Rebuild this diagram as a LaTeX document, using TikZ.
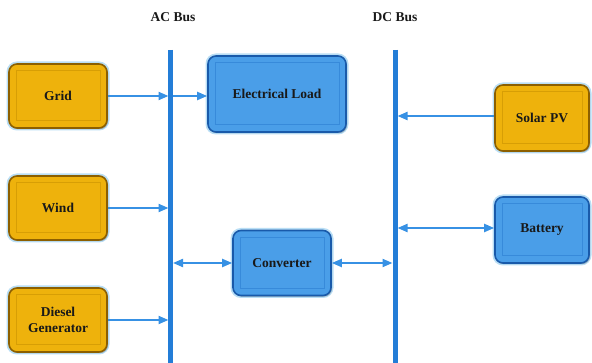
\documentclass[tikz,border=0pt]{standalone}
\usepackage{fontspec}
\setmainfont{Liberation Serif}
\usetikzlibrary{arrows.meta,shadows}
\definecolor{goldfill}{RGB}{238,178,12}
\definecolor{golddark}{RGB}{140,95,0}
\definecolor{goldin}{RGB}{215,158,5}
\definecolor{bluefill}{RGB}{74,158,232}
\definecolor{bluedark}{RGB}{25,90,170}
\definecolor{bluein}{RGB}{55,138,218}
\definecolor{glow}{RGB}{185,222,245}
\definecolor{busblue}{RGB}{35,125,215}
\definecolor{arrblue}{RGB}{55,145,228}
\tikzset{
  boxbase/.style={rounded corners=8pt, line width=1.6pt, align=center,
    font=\fontsize{13.5}{16}\selectfont\bfseries, text=black!90,
    preaction={draw=glow, line width=5pt},
    drop shadow={shadow xshift=1pt, shadow yshift=-1.2pt, opacity=0.45, fill=black!60}},
  goldbox/.style={boxbase, fill=goldfill, draw=golddark,
    path picture={\draw[goldin, line width=1pt, sharp corners] ([shift={(7pt,7pt)}]path picture bounding box.south west) rectangle ([shift={(-7pt,-7pt)}]path picture bounding box.north east);}},
  bluebox/.style={boxbase, fill=bluefill, draw=bluedark,
    path picture={\draw[bluein, line width=1pt, sharp corners] ([shift={(7pt,7pt)}]path picture bounding box.south west) rectangle ([shift={(-7pt,-7pt)}]path picture bounding box.north east);}},
  bus/.style={busblue, line width=5pt},
  flow/.style={arrblue, line width=2pt, -{Triangle[length=10pt,width=8pt]}},
  biflow/.style={arrblue, line width=2pt, {Triangle[length=10pt,width=8pt]}-{Triangle[length=10pt,width=8pt]}},
  buslabel/.style={font=\fontsize{13.5}{14}\selectfont\bfseries, text=black!90}
}
\begin{document}
\begin{tikzpicture}[x=1pt,y=-1pt]
\useasboundingbox (0,0) rectangle (592,363);
\fill[white] (0,0) rectangle (592,363);
% buses
\coordinate (acT) at (170.5,50);
\coordinate (acB) at (170.5,363);
\coordinate (dcT) at (395,50);
\coordinate (dcB) at (395,363);
\draw[bus] (acT) -- (acB);
\draw[bus] (dcT) -- (dcB);
\node[buslabel] (aclab) at (173,17) {AC Bus};
\node[buslabel] (dclab) at (395,17) {DC Bus};
% boxes
\node[goldbox, minimum width=98pt, minimum height=64pt] (grid) at (58,96) {Grid};
\node[goldbox, minimum width=98pt, minimum height=64pt] (wind) at (58,208) {Wind};
\node[goldbox, minimum width=98pt, minimum height=64pt] (diesel) at (58,320) {Diesel\\Generator};
\node[bluebox, minimum width=138pt, minimum height=76pt] (load) at (277,94) {Electrical Load};
\node[bluebox, minimum width=98pt, minimum height=65pt] (conv) at (282,263) {Converter};
\node[goldbox, minimum width=94pt, minimum height=66pt] (solar) at (542,118) {Solar PV};
\node[bluebox, minimum width=94pt, minimum height=66pt] (batt) at (542,230) {Battery};
% connectors
\draw[flow] (grid.east) -- ([xshift=-2pt]grid.east -| acT);
\draw[flow] ([xshift=2.5pt]grid.east -| acT) -- (grid.east -| load.west);
\draw[flow] (wind.east) -- ([xshift=-2pt]wind.east -| acT);
\draw[flow] (diesel.east) -- ([xshift=-2pt]diesel.east -| acT);
\draw[biflow] ([xshift=2.5pt]conv.west -| acT) -- (conv.west);
\draw[biflow] (conv.east) -- ([xshift=-2.5pt]conv.east -| dcT);
\draw[flow] ([yshift=2pt]solar.west) -- ([xshift=2.5pt,yshift=2pt]solar.west -| dcT);
\draw[biflow] ([xshift=2.5pt,yshift=2pt]batt.west -| dcT) -- ([yshift=2pt]batt.west);
\end{tikzpicture}
\end{document}
